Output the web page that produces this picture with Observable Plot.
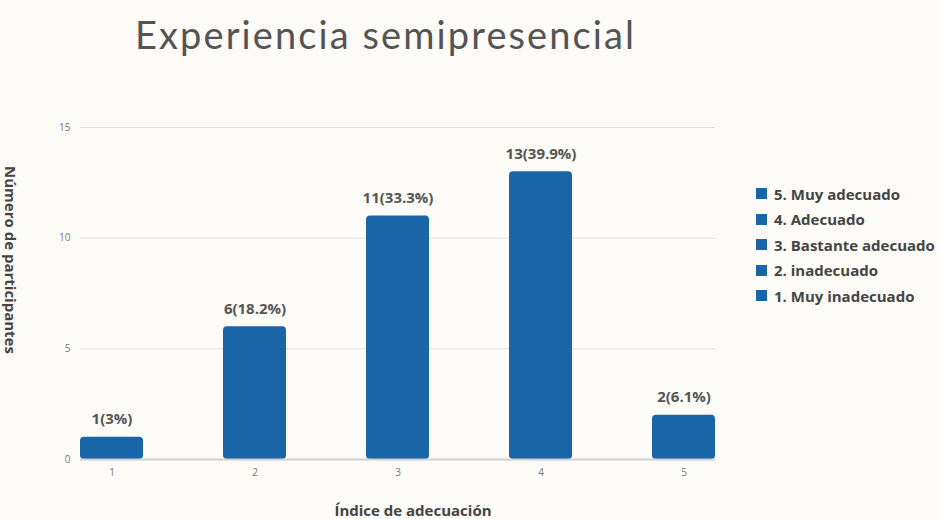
<!DOCTYPE html>
<html>
<head>
<meta charset="utf-8">
<script src="https://cdn.jsdelivr.net/npm/d3@7"></script>
<script src="https://cdn.jsdelivr.net/npm/@observablehq/plot@0.6"></script>
<style>
  html, body { margin: 0; padding: 0; background: #fdfbf7; }
  #wrap { position: relative; width: 941px; height: 519px; overflow: hidden; font-family: "Open Sans", sans-serif; }
  #title { position: absolute; left: 135px; top: 11px; font-family: Lato, "Open Sans", sans-serif; font-size: 38px; color: #545454; letter-spacing: 2.1px; white-space: nowrap; }
  #chart { position: absolute; left: 0; top: 80px; }
  #ylab { position: absolute; left: 11px; top: 260px; transform: translate(-50%, -50%) rotate(90deg); font-weight: 700; font-size: 15px; color: #444; white-space: nowrap; }
  #xlab { position: absolute; left: 413px; top: 510px; transform: translate(-50%, -50%); font-weight: 700; font-size: 15px; color: #444; white-space: nowrap; }
  #legend { position: absolute; left: 756px; top: 181px; font-weight: 700; font-size: 15px; color: #444; }
  #legend .row { display: flex; align-items: center; height: 25.5px; white-space: nowrap; }
  #legend .sw { width: 11px; height: 11px; background: #1a65a8; margin-right: 7px; }
</style>
</head>
<body>
<div id="wrap">
  <div id="title">Experiencia semipresencial</div>
  <div id="chart"></div>
  <div id="ylab">Número de participantes</div>
  <div id="xlab">Índice de adecuación</div>
  <div id="legend"></div>
</div>
<script>
const categories = ["1", "2", "3", "4", "5"];
const counts = [1, 6, 11, 13, 2];
const valueLabels = ["1(3%)", "6(18.2%)", "11(33.3%)", "13(39.9%)", "2(6.1%)"];
const yTicks = [0, 5, 10, 15];
const legendItems = ["5. Muy adecuado", "4. Adecuado", "3. Bastante adecuado", "2. inadecuado", "1. Muy inadecuado"];

const data = categories.map((c, i) => ({cat: c, n: counts[i], label: valueLabels[i]}));
const barColor = "#1a65a8";

const chart = Plot.plot({
  width: 941,
  height: 439,
  marginLeft: 80,
  marginRight: 226,
  marginTop: 47,
  marginBottom: 60,
  style: {background: "transparent", fontFamily: "Open Sans, sans-serif"},
  x: {domain: categories, paddingInner: 0.56, paddingOuter: 0, label: null},
  y: {domain: [0, 15], label: null},
  marks: [
    Plot.gridY(yTicks, {stroke: "#e2e2e2", strokeOpacity: 1, strokeWidth: 1}),
    Plot.axisY(yTicks, {tickSize: 0, tickPadding: 10, fontSize: 10, fill: "#777", label: null}),
    Plot.axisX({tickSize: 0, tickPadding: 9, fontSize: 10, fill: "#777", label: null}),
    Plot.barY(data, {x: "cat", y: "n", fill: barColor, rx: 4}),
    Plot.ruleY([0], {stroke: "#d0d0d0", strokeWidth: 2}),
    Plot.text(data, {x: "cat", y: "n", text: "label", dy: -18, fontSize: 15, fontWeight: 700, fill: "#555"})
  ]
});
document.getElementById("chart").appendChild(chart);

const leg = document.getElementById("legend");
legendItems.forEach(t => {
  const r = document.createElement("div");
  r.className = "row";
  const s = document.createElement("div");
  s.className = "sw";
  const l = document.createElement("span");
  l.textContent = t;
  r.appendChild(s); r.appendChild(l);
  leg.appendChild(r);
});
</script>
</body>
</html>
